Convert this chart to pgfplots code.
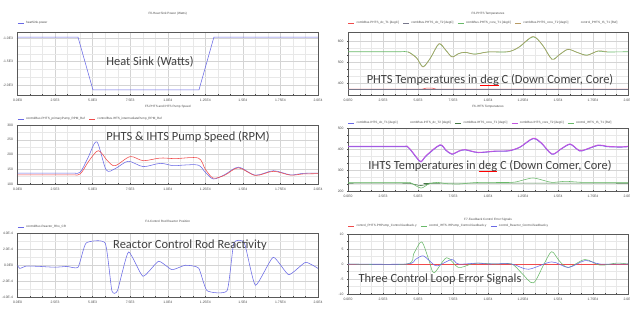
\documentclass[border=0pt]{standalone}
\usepackage{fontspec}
\setmainfont{Carlito}
\newfontfamily\lsans{Liberation Sans}
\usepackage{pgfplots}
\pgfplotsset{compat=1.18}
\definecolor{cblue}{RGB}{105,105,230}
\definecolor{cred}{RGB}{240,75,75}
\definecolor{cgreen}{RGB}{105,185,105}
\definecolor{ctan}{RGB}{185,155,100}
\definecolor{cmag}{RGB}{195,85,225}
\definecolor{cdgreen}{RGB}{70,120,70}
\definecolor{cgray}{RGB}{120,120,140}
\definecolor{ctext}{RGB}{64,64,64}
\definecolor{cgrid}{RGB}{212,212,212}
\definecolor{cgridm}{RGB}{232,232,232}
\newcommand\redul[1]{\setbox0\hbox{#1}\rlap{\color{red}\raisebox{-2pt}{\rule{\wd0}{0.6pt}}}\box0}
\newcommand\bigtxt{\fontsize{12.5}{14}\selectfont}
\newcommand\smalltxt{\lsans\fontsize{3.1}{3.7}\selectfont}
\pgfplotsset{
  every axis title/.style={at={(0.5,1)}, anchor=center, font=\smalltxt, text=gray!60!black},
  panel/.style={
    scale only axis,
    axis line style={gray!70!black, line width=0.4pt},
    grid=both,
    major grid style={cgrid, line width=0.3pt},
    minor grid style={cgridm, line width=0.3pt},
    tick style={gray!60!black, line width=0.3pt},
    major tick length=2pt, minor tick length=1.4pt,
    tick align=center,
    tick pos=left,
    ticklabel style={font=\lsans\fontsize{3.4}{4}\selectfont, text=gray!60!black},
    /pgf/number format/assume math mode=true,
    scaled ticks=false,
    xmin=0, xmax=20000,
    xtick={0,2500,...,20000},
    xticklabels={0.0E0,2.5E3,5.0E3,7.5E3,1.0E4,1.25E4,1.5E4,1.75E4,2.0E4},
    minor x tick num=2,
    legend style={anchor=west, draw=none, fill=none,
      font=\smalltxt, text=gray!60!black,
      legend columns=-1, inner sep=0pt,
      /tikz/every even column/.append style={column sep=2pt}},
    legend image code/.code={\draw[##1, line width=0.5pt] (0pt,0pt) -- (6pt,0pt);},
    every axis plot/.append style={line width=0.55pt},
    clip=true,
  }
}
\begin{document}
\begin{tikzpicture}
\useasboundingbox (0bp,0bp) rectangle (630bp,-312bp);
\fill[white] (0bp,0bp) rectangle (630bp,-312bp);

% ---------- top left: heat sink
\begin{axis}[panel, at={(17.5bp,-32bp)}, anchor=north west, width=300.5bp, height=63bp,
  ymin=-2.213, ymax=-0.872, ytick={-1,-1.5,-2}, yticklabels={-1.0E3,-1.5E3,-2.0E3},
  minor y tick num=2,
  title={F0-Heat Sink Power (Watts)}, title style={at={(0.5,1.286)}},
  legend style={at={(0,1.143)}}]
\addplot[cblue] coordinates {(0,-0.979)(4025,-0.979)(5023,-2.106)(12076,-2.106)(13074,-0.979)(20000,-0.979)};
\addlegendentry{heatSink.power}
\end{axis}

% ---------- top right: PHTS temperatures
\begin{axis}[panel, at={(348bp,-32bp)}, anchor=north west, width=280bp, height=63bp,
  ymin=343, ymax=643, ytick={400,500,600}, yticklabels={400,500,600},
  minor y tick num=2,
  title={F6-PHTS Temperatures}, title style={at={(0.5,1.286)}},
  legend style={at={(0,1.143)}}]
\addplot[cred] coordinates {(0,371)(5300,371)(5600,376)(6000,376)(6300,371)(20000,371)};
\addplot[cgray] coordinates {(0,371)(5300,371)(6300,371)(20000,371)};
\addplot[cgreen, smooth, line width=0.65pt] coordinates {(0,549)(3500,549)(4286,548)(4900,520)(5357,478)(5900,520)(6500,586)(7000,555)(7429,525)(7900,540)(8357,546)(9071,538)(10000,548)(11429,549)(12200,570)(13214,620)(13900,580)(14571,514)(15100,535)(15714,560)(16400,545)(17071,533)(17857,552)(18500,548)(20000,549)};
\addplot[ctan, smooth, line width=0.45pt] coordinates {(4286,549)(4900,519)(5357,476)(5900,521)(6500,588)(7000,555)(7429,524)(7900,540)(8357,547)(9071,537)(10000,548)(11429,549)(12200,571)(13214,622)(13900,580)(14571,512)(15100,535)(15714,561)(16400,545)(17071,532)(17857,553)(18500,549)};
\addplot[cdgreen, opacity=0] coordinates {(0,549)(20000,549)};
\legend{combBus.PHTS\_dc\_T1 [degC],combBus.PHTS\_dc\_T2 [degC],combBus.PHTS\_core\_T1 [degC],combBus.PHTS\_core\_T2 [degC],control\_PHTS\_IS\_T1 [Ref]}
\end{axis}

% ---------- middle left: pump speed
\begin{axis}[panel, at={(17.5bp,-125bp)}, anchor=north west, width=300.5bp, height=59bp,
  ymin=100, ymax=300, ytick={100,150,200,250,300}, yticklabels={100,150,200,250,300},
  minor y tick num=1,
  title={F5-PHTS and IHTS Pump Speed}, title style={at={(0.5,1.305)}},
  legend style={at={(0,1.102)}}]
\addplot[cblue, smooth] coordinates {(0,137)(3500,137)(4167,140)(4700,190)(5280,243)(5900,148)(6500,152)(7367,177)(8367,159)(9500,170)(10367,162)(11000,164)(12033,164)(12500,140)(13033,117)(13800,132)(14700,157)(15833,130)(17033,145)(18167,131)(19000,136)(20000,137)};
\addplot[cred, smooth] coordinates {(0,131)(3500,131)(4167,134)(4750,178)(5387,213)(6000,178)(6500,162)(7500,193)(8367,179)(9500,188)(10500,186)(12033,188)(12500,150)(13033,120)(13800,130)(14700,155)(15833,129)(17033,143)(18167,130)(19000,134)(20000,135)};
\legend{controlBus.PHTS\_primaryPump\_RPM\_Ref,controlBus.IHTS\_intermediatePump\_RPM\_Ref}
\end{axis}

% ---------- middle right: IHTS temperatures
\begin{axis}[panel, at={(348bp,-128bp)}, anchor=north west, width=280bp, height=63bp,
  ymin=200, ymax=500, ytick={200,300,400,500}, yticklabels={200,300,400,500},
  minor y tick num=2,
  title={F6-IHTS Temperatures}, title style={at={(0.5,1.333)}},
  legend style={at={(0,1.079)}}]
\addplot[cblue, smooth, line width=0.9pt] coordinates {(0,411)(3800,411)(4286,408)(4900,358)(5214,339)(5600,368)(6571,418)(7000,393)(7429,375)(7900,389)(8357,396)(9286,383)(10500,389)(11500,391)(12300,409)(13214,449)(13800,428)(14571,375)(15200,399)(15857,422)(16400,397)(16714,391)(17857,417)(18500,411)(19500,409)(20000,411)};
\addplot[cred, opacity=0] coordinates {(0,411)(20000,411)};
\addplot[cdgreen, smooth] coordinates {(0,237)(4000,237)(4500,235)(5214,226)(5800,234)(6400,237)(20000,237)};
\addplot[cmag, smooth, line width=0.9pt] coordinates {(0,413)(3800,413)(4286,410)(4900,360)(5214,340)(5600,370)(6571,420)(7000,395)(7429,376)(7900,390)(8357,397)(9286,384)(10500,390)(11500,392)(12300,410)(13214,451)(13800,430)(14571,376)(15200,400)(15857,424)(16400,398)(16714,392)(17857,419)(18500,413)(19500,410)(20000,413)};
\addplot[cgreen, smooth] coordinates {(0,241)(4000,241)(4500,238)(5214,214)(5800,235)(6400,241)(7000,235)(7900,233)(8700,238)(9500,241)(11700,241)(12500,252)(13214,262)(14000,250)(14571,241)(15500,246)(16300,243)(17000,241)(20000,241)};
\legend{combBus.IHTS\_dc\_T1 [degC],combBus.IHTS\_dc\_T2 [degC],combBus.IHTS\_core\_T1 [degC],combBus.IHTS\_core\_T2 [degC],control\_IHTS\_IS\_T1 [Ref]}
\end{axis}

% ---------- bottom left: control rod reactivity
\begin{axis}[panel, at={(17.5bp,-233.5bp)}, anchor=north west, width=300.5bp, height=63.5bp,
  ymin=-4, ymax=4, ytick={-4,-2,0,2,4}, yticklabels={-4.0E-4,-2.0E-4,0.0E0,2.0E-4,4.0E-4},
  minor y tick num=1,
  title={F4-Control Rod Reactor Position}, title style={at={(0.5,1.197)}},
  legend style={at={(0,1.102)}}]
\addplot[cblue, smooth, tension=0.3] coordinates {(0,0)(150,-0.4)(600,-0.1)(1500,-0.15)(2500,-0.25)(3300,-0.15)(4033,-0.25)(4567,2.80)(5833,2.80)(6280,-3.20)(6653,-3.20)(7387,1.67)(8347,-1.39)(9387,0.50)(10280,-0.56)(11167,0.0)(12053,-0.35)(12613,-3.20)(13947,-3.20)(14400,2.8)(15100,2.8)(15833,-2.52)(17013,1.0)(18053,-1.19)(19167,0.37)(20000,-0.4)};
\addlegendentry{controlBus.Reactor\_Rho\_CR}
\end{axis}

% ---------- bottom right: error signals
\begin{axis}[panel, at={(348bp,-234bp)}, anchor=north west, width=280bp, height=60bp,
  ymin=-10, ymax=10, ytick={-10,-5,0,5,10}, yticklabels={-10,-5,0,5,10},
  minor y tick num=1,
  title={F7-Feedback Control Error Signals}, title style={at={(0.5,1.233)}},
  legend style={at={(0,1.133)}}]
\addplot[cred] coordinates {(0,0)(20000,0)};
\addplot[cgreen, smooth] coordinates {(0,0)(4193,0)(4700,3.5)(5264,7.35)(5800,1)(6150,-2.9)(7050,2.1)(7879,-1.15)(8800,0)(9286,0.3)(10500,0)(11693,0)(12400,-3)(13236,-6.3)(14000,0)(14550,4.1)(15100,1)(15736,-1.15)(16929,1.5)(18000,-0.4)(19193,0.3)(20000,0)};
\addplot[cblue, smooth] coordinates {(0,0)(4193,0)(4800,1.5)(5379,2.7)(6071,0)(6429,-0.6)(7407,1.5)(7900,0)(9286,0.3)(10000,0)(11693,0)(12879,-1.75)(14550,0.7)(15736,-1.15)(16929,1.15)(18000,0)(20000,0)};
\legend{control\_PHTS.PHPump\_Control.feedback.y,control\_IHTS.IHPump\_Control.feedback.y,control\_Reactor\_Control.feedback.y}
\end{axis}

% ---------- overlay labels
\node[text=ctext, font=\bigtxt] at (150bp,-62bp) {Heat Sink (Watts)};
\node[text=ctext, font=\bigtxt] at (490bp,-80bp) {PHTS Temperatures in \redul{deg}\ C (Down Comer, Core)};
\node[text=ctext, font=\bigtxt] at (188bp,-137bp) {PHTS \& IHTS Pump Speed (RPM)};
\node[text=ctext, font=\bigtxt] at (490bp,-166bp) {IHTS Temperatures in \redul{deg}\ C (Down Comer, Core)};
\node[text=ctext, font=\bigtxt] at (190bp,-245bp) {Reactor Control Rod Reactivity};
\node[text=ctext, font=\bigtxt] at (440bp,-279bp) {Three Control Loop Error Signals};
\end{tikzpicture}
\end{document}
